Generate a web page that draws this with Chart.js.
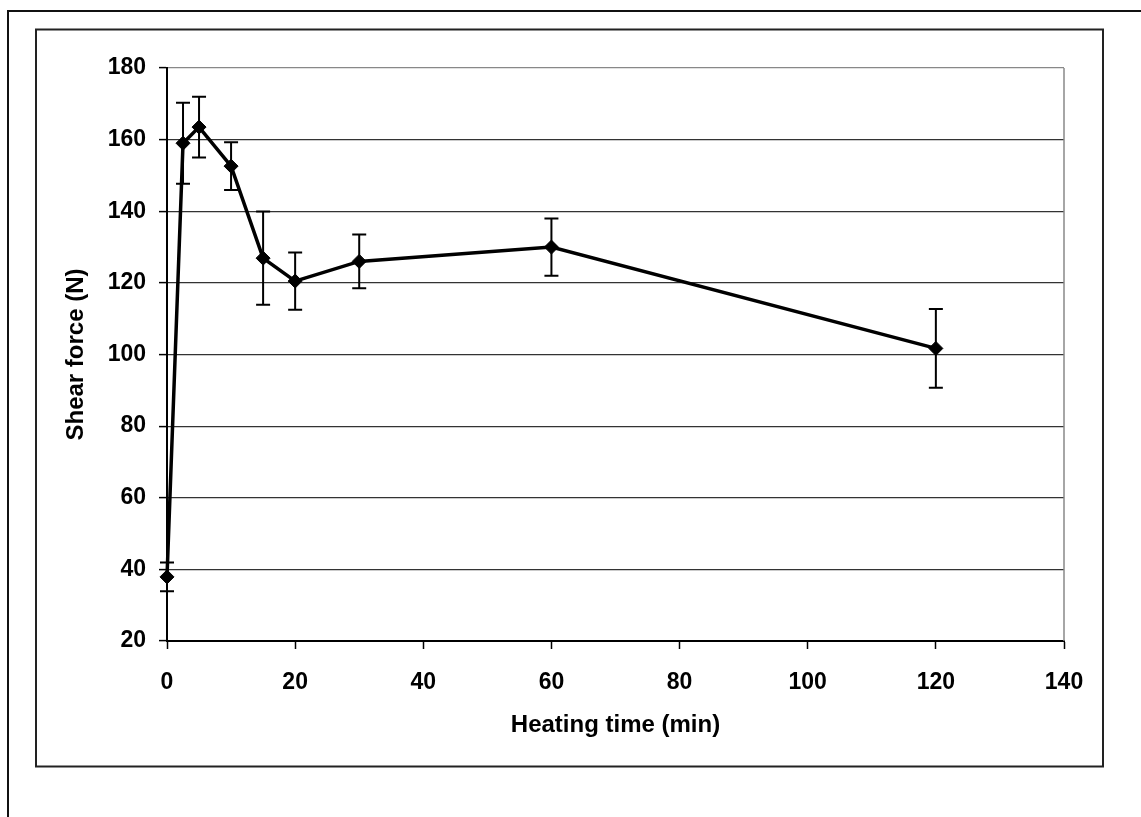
<!DOCTYPE html>
<html>
<head>
<meta charset="utf-8">
<script src="https://cdn.jsdelivr.net/npm/chart.js@4/dist/chart.umd.min.js"></script>
<style>
  html, body { margin: 0; padding: 0; background: #fff; }
  #wrap { position: relative; width: 1141px; height: 817px; overflow: hidden; }
  canvas { display: block; }
</style>
</head>
<body>
<div id="wrap"><canvas id="c" width="1141" height="817"></canvas></div>
<script>
// Data
const heatingTime = [0, 2.5, 5, 10, 15, 20, 30, 60, 120];
const shearForce = [37.9, 159.0, 163.5, 152.6, 126.9, 120.5, 126.0, 130.0, 101.7];
const shearError = [4.0, 11.3, 8.5, 6.7, 13.0, 8.0, 7.5, 8.0, 11.0];
const xTicks = [0, 20, 40, 60, 80, 100, 120, 140];
const yTicks = [20, 40, 60, 80, 100, 120, 140, 160, 180];

const FONT = "'Liberation Sans', Arial, sans-serif";

const points = heatingTime.map((t, i) => ({ x: t, y: shearForce[i] }));

const framePlugin = {
  id: 'frames',
  beforeDraw(chart) {
    const ctx = chart.ctx;
    ctx.save();
    ctx.fillStyle = '#fff';
    ctx.fillRect(0, 0, chart.width, chart.height);
    ctx.strokeStyle = '#111';
    ctx.lineWidth = 2;
    ctx.beginPath();
    ctx.moveTo(8, chart.height + 5);
    ctx.lineTo(8, 11);
    ctx.lineTo(chart.width + 5, 11);
    ctx.stroke();
    ctx.strokeStyle = '#222';
    ctx.strokeRect(36, 29.5, 1067, 737);
    ctx.restore();
  },
  afterDatasetsDraw(chart) {
    const ctx = chart.ctx;
    const a = chart.chartArea;
    ctx.save();
    ctx.strokeStyle = '#888';
    ctx.lineWidth = 1.5;
    ctx.beginPath();
    ctx.moveTo(a.right, a.top);
    ctx.lineTo(a.right, a.bottom);
    ctx.stroke();
    ctx.restore();
  }
};

const errorBarPlugin = {
  id: 'errorBars',
  afterDatasetsDraw(chart) {
    const ctx = chart.ctx;
    const xs = chart.scales.x, ys = chart.scales.y;
    ctx.save();
    ctx.strokeStyle = '#000';
    ctx.lineWidth = 2;
    heatingTime.forEach((t, i) => {
      const px = xs.getPixelForValue(t);
      const top = ys.getPixelForValue(shearForce[i] + shearError[i]);
      const bot = ys.getPixelForValue(shearForce[i] - shearError[i]);
      const cap = 7;
      ctx.beginPath();
      ctx.moveTo(px, top); ctx.lineTo(px, bot);
      ctx.moveTo(px - cap, top); ctx.lineTo(px + cap, top);
      ctx.moveTo(px - cap, bot); ctx.lineTo(px + cap, bot);
      ctx.stroke();
    });
    ctx.restore();
  }
};

new Chart(document.getElementById('c'), {
  type: 'line',
  data: {
    datasets: [{
      label: 'Shear force',
      data: points,
      borderColor: '#000',
      backgroundColor: '#000',
      borderWidth: 3.5,
      pointStyle: 'rectRot',
      pointRadius: 7,
      pointBackgroundColor: '#000',
      pointBorderColor: '#000',
      pointBorderWidth: 1,
      tension: 0,
      clip: false
    }]
  },
  options: {
    responsive: false,
    animation: false,
    devicePixelRatio: 1,
    layout: { padding: { left: 36, top: 68, right: 77, bottom: 66 } },
    plugins: { legend: { display: false }, tooltip: { enabled: false } },
    scales: {
      x: {
        type: 'linear',
        min: 0, max: 140,
        afterBuildTicks(scale) { scale.ticks = xTicks.map(v => ({ value: v })); },
        afterFit(scale) { scale.height = 110; },
        ticks: {
          color: '#000',
          font: { family: FONT, size: 23, weight: 'bold' },
          padding: 20,
          maxRotation: 0,
          autoSkip: false
        },
        grid: {
          drawOnChartArea: false,
          drawTicks: true,
          tickLength: 8,
          tickColor: '#000',
          tickWidth: 1.5
        },
        border: { display: true, color: '#000', width: 2 },
        title: {
          display: true,
          text: 'Heating time (min)',
          color: '#000',
          font: { family: FONT, size: 24, weight: 'bold' },
          padding: { top: 0, bottom: 11 }
        }
      },
      y: {
        type: 'linear',
        min: 20, max: 180,
        afterBuildTicks(scale) { scale.ticks = yTicks.map(v => ({ value: v })); },
        afterFit(scale) { scale.width = 131; },
        ticks: {
          color: '#000',
          font: { family: FONT, size: 23, weight: 'bold' },
          padding: 13,
          autoSkip: false
        },
        grid: {
          drawOnChartArea: true,
          drawTicks: true,
          tickLength: 8,
          tickColor: '#000',
          tickWidth: 1.5,
          color: (c) => (c.tick && c.tick.value === 180) ? '#888' : '#333',
          lineWidth: 1.2
        },
        border: { display: true, color: '#000', width: 2 },
        title: {
          display: true,
          text: 'Shear force (N)',
          color: '#000',
          font: { family: FONT, size: 24, weight: 'bold' },
          padding: { top: 26, bottom: 0 }
        }
      }
    }
  },
  plugins: [framePlugin, errorBarPlugin]
});
</script>
</body>
</html>
